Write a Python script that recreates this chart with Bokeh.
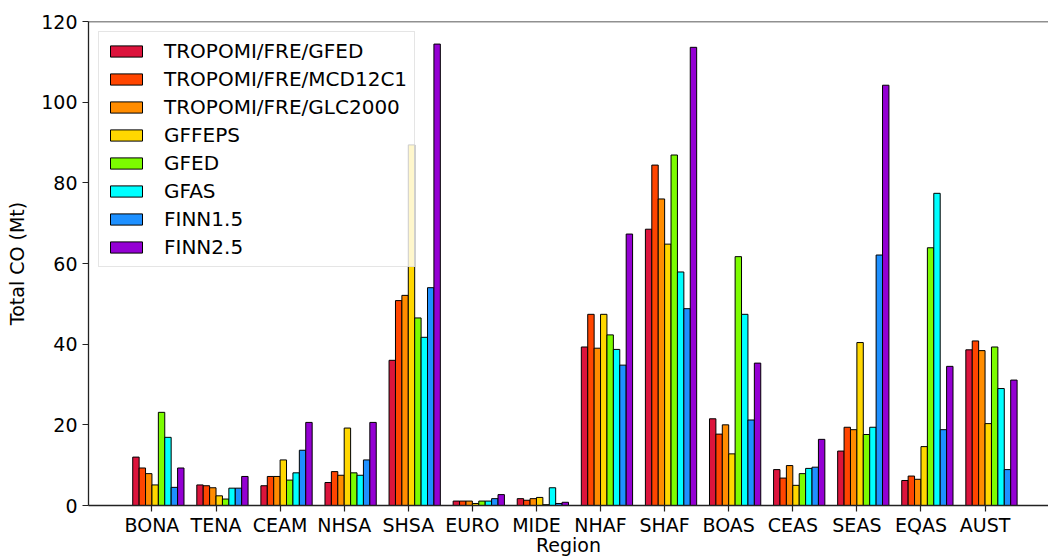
from bokeh.plotting import figure
from bokeh.models import ColumnDataSource, FixedTicker, Span
from bokeh.embed import file_html
from bokeh.resources import INLINE

regions = ["BONA", "TENA", "CEAM", "NHSA", "SHSA", "EURO", "MIDE",
           "NHAF", "SHAF", "BOAS", "CEAS", "SEAS", "EQAS", "AUST"]

tropomi_gfed = [12.0, 5.1, 4.9, 5.7, 36.0, 1.1, 1.7, 39.3, 68.5, 21.5, 8.9, 13.5, 6.2, 38.6]
tropomi_mcd12c1 = [9.3, 4.9, 7.2, 8.4, 50.8, 1.1, 1.3, 47.4, 84.4, 17.7, 6.8, 19.4, 7.3, 40.8]
tropomi_glc2000 = [7.9, 4.4, 7.2, 7.5, 52.1, 1.1, 1.7, 39.0, 76.0, 20.0, 9.9, 18.8, 6.5, 38.4]
gffeps = [5.1, 2.4, 11.3, 19.2, 89.4, 0.5, 2.0, 47.4, 64.8, 12.8, 5.0, 40.4, 14.6, 20.3]
gfed = [23.1, 1.6, 6.3, 8.1, 46.5, 1.1, 0.2, 42.3, 86.9, 61.7, 7.9, 17.6, 63.9, 39.3]
gfas = [16.9, 4.3, 8.1, 7.5, 41.7, 1.1, 4.4, 38.7, 57.9, 47.4, 9.2, 19.4, 77.4, 29.0]
finn15 = [4.5, 4.3, 13.7, 11.3, 54.0, 1.7, 0.5, 34.8, 48.8, 21.2, 9.5, 62.1, 18.8, 8.9]
finn25 = [9.3, 7.2, 20.6, 20.6, 114.4, 2.7, 0.8, 67.3, 113.6, 35.3, 16.4, 104.2, 34.5, 31.1]

series_names = ["TROPOMI/FRE/GFED", "TROPOMI/FRE/MCD12C1", "TROPOMI/FRE/GLC2000",
                "GFFEPS", "GFED", "GFAS", "FINN1.5", "FINN2.5"]
series_values = [tropomi_gfed, tropomi_mcd12c1, tropomi_glc2000, gffeps,
                 gfed, gfas, finn15, finn25]
series_colors = ["#DC143C", "#FF4500", "#FF8C00", "#FFD700",
                 "#7CFC00", "#00FFFF", "#1E90FF", "#9400D3"]

FONT = "DejaVu Sans"
BAR_W = 0.1

p = figure(width=1048, height=558, output_backend="svg", toolbar_location=None,
           x_range=(-0.99, 13.99), y_range=(0, 120),
           min_border_left=88, min_border_right=0, min_border_top=21,
           min_border_bottom=53)

for i, (name, vals, col) in enumerate(zip(series_names, series_values, series_colors)):
    xs = [j + (i - 2.5) * BAR_W for j in range(len(regions))]
    src = ColumnDataSource(dict(x=xs, top=vals))
    p.vbar(x="x", top="top", bottom=0, width=BAR_W, source=src,
           fill_color=col, line_color="black", line_width=1,
           legend_label=name)

p.outline_line_color = None
p.grid.grid_line_color = None
p.background_fill_color = "white"
p.border_fill_color = "white"

top_spine = Span(location=120, dimension="width", line_color="#222222", line_width=1.3)
p.add_layout(top_spine)

p.xaxis.ticker = FixedTicker(ticks=list(range(len(regions))))
p.xaxis.major_label_overrides = {i: r for i, r in enumerate(regions)}
p.yaxis.ticker = FixedTicker(ticks=[0, 20, 40, 60, 80, 100, 120])

for ax in (p.xaxis, p.yaxis):
    ax.axis_line_color = "#222222"
    ax.axis_line_width = 1.3
    ax.major_tick_line_color = "#222222"
    ax.major_tick_line_width = 1.2
    ax.major_tick_out = 6
    ax.major_tick_in = 0
    ax.minor_tick_line_color = None
    ax.major_label_text_font = FONT
    ax.major_label_text_font_size = "19px"
    ax.major_label_text_color = "black"
    ax.axis_label_text_font = FONT
    ax.axis_label_text_font_size = "19px"
    ax.axis_label_text_font_style = "normal"
    ax.axis_label_text_color = "black"

p.xaxis.axis_label = "Region"
p.yaxis.axis_label = "Total CO (Mt)"
p.xaxis.major_label_standoff = 2
p.xaxis.axis_label_standoff = -5
p.yaxis.major_label_standoff = 5
p.yaxis.axis_label_standoff = 10

lg = p.legend[0]
lg.location = "top_left"
lg.margin = 10
lg.padding = 7
lg.spacing = 4
lg.glyph_width = 40
lg.glyph_height = 14
lg.label_height = 20
lg.label_standoff = 18
lg.label_text_font = FONT
lg.label_text_font_size = "20px"
lg.label_text_color = "black"
lg.border_line_color = "#cccccc"
lg.border_line_width = 1
lg.background_fill_color = "white"
lg.background_fill_alpha = 0.8

open("out.html", "w").write(file_html(p, INLINE))
